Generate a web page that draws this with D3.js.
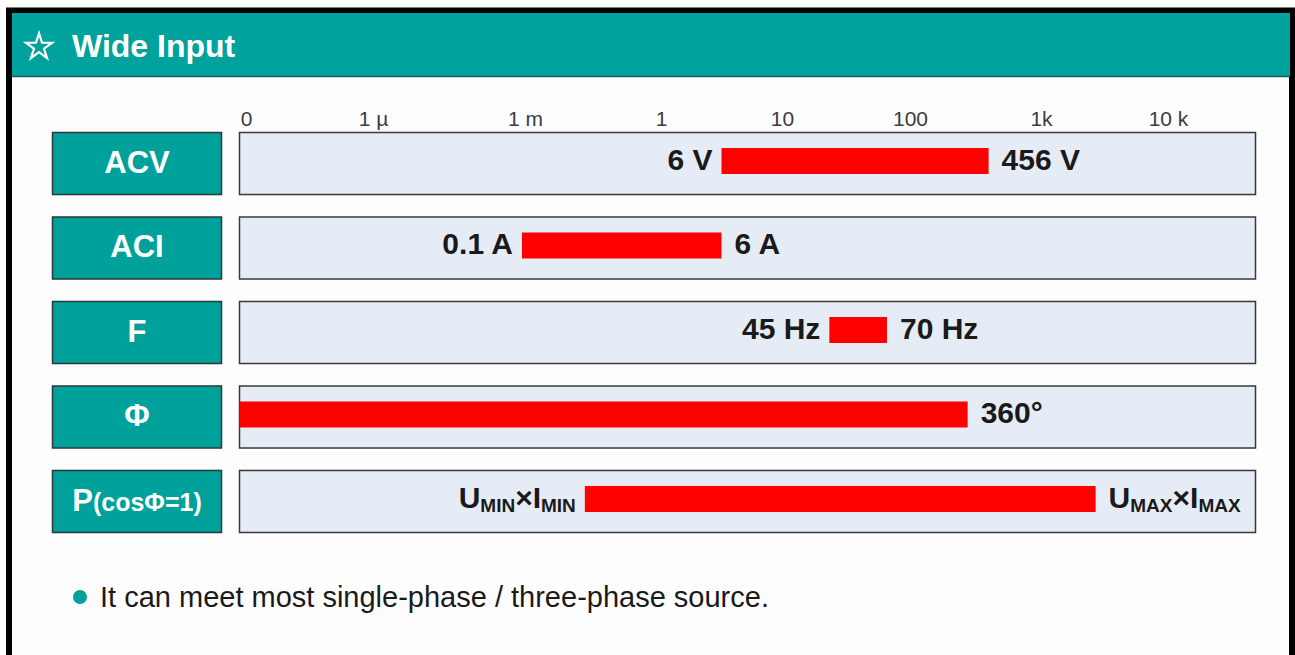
<!DOCTYPE html>
<html>
<head>
<meta charset="utf-8">
<script src="https://cdn.jsdelivr.net/npm/d3@7"></script>
<style>
  body { margin: 0; background: #fff; }
  svg { display: block; font-family: 'Liberation Sans', Arial, sans-serif; }
</style>
</head>
<body>
<div id="chart"></div>
<script>
// categories and range marks (bar ends are in tick-index units)
const rowLabels = ['ACV', 'ACI', 'F', 'Φ', 'P(cosΦ=1)'];
const tickLabels = ['0', '1 µ', '1 m', '1', '10', '100', '1k', '10 k'];
const barStart = [3.50, 1.98, 4.37, -0.05, 2.44];
const barEnd = [5.60, 3.50, 4.82, 5.44, 6.43];
const minLabels = ['6 V', '0.1 A', '45 Hz', '', 'U_{MIN}×I_{MIN}'];
const maxLabels = ['456 V', '6 A', '70 Hz', '360°', 'U_{MAX}×I_{MAX}'];
const title = 'Wide Input';
const note = 'It can meet most single-phase / three-phase source.';

const width = 1295;
const height = 655;
const teal = '#00a19a';

const svg = d3.select('#chart').append('svg')
  .attr('width', width)
  .attr('height', height);

// outer frame
svg.append('rect')
  .attr('x', 9).attr('y', 10.5)
  .attr('width', 1283).attr('height', 700)
  .attr('fill', '#fdfdfd')
  .attr('stroke', '#000')
  .attr('stroke-width', 6);

// header band
svg.append('rect')
  .attr('x', 12).attr('y', 13)
  .attr('width', 1278).attr('height', 63)
  .attr('fill', '#00a29d');
svg.append('line')
  .attr('x1', 12).attr('x2', 1290)
  .attr('y1', 76.5).attr('y2', 76.5)
  .attr('stroke', '#1d5d58')
  .attr('stroke-width', 1.5);

svg.append('path')
  .attr('transform', 'translate(39,47)')
  .attr('d', d3.symbol().type(d3.symbolStar).size(210)())
  .attr('fill', 'none')
  .attr('stroke', '#fff')
  .attr('stroke-width', 2.2)
  .attr('stroke-linejoin', 'miter');
svg.append('text')
  .attr('x', 72).attr('y', 57)
  .attr('fill', '#fff')
  .attr('font-size', 32)
  .attr('font-weight', 'bold')
  .text(title);

// scales: tick index -> pixel, row -> band
const x = d3.scaleLinear()
  .domain(d3.range(tickLabels.length))
  .range([246, 373, 525, 661, 782, 910, 1041, 1168]);

const y = d3.scaleBand()
  .domain(rowLabels)
  .range([132, 532])
  .paddingInner(0.266)
  .paddingOuter(0);

const xAxis = d3.axisTop(x)
  .tickValues(d3.range(tickLabels.length))
  .tickFormat(i => tickLabels[i])
  .tickSize(0)
  .tickPadding(0);

const axisG = svg.append('g')
  .attr('transform', 'translate(0,126)')
  .call(xAxis);
axisG.select('.domain').remove();
axisG.selectAll('text')
  .attr('font-size', 21)
  .attr('font-family', "'Liberation Sans', Arial, sans-serif")
  .attr('fill', '#3c3c3c')
  .attr('dy', 0);

// text with _{sub} parts
function richText(sel, s, big, small) {
  s.split(/(_\{[^}]*\})/).filter(p => p.length).forEach(p => {
    if (p.startsWith('_{')) {
      sel.append('tspan')
        .attr('font-size', small)
        .attr('dy', 4)
        .text(p.slice(2, -1));
    } else {
      sel.append('tspan')
        .attr('font-size', big)
        .attr('dy', sel.selectAll('tspan').size() ? -4 : 0)
        .text(p);
    }
  });
}

const rows = svg.selectAll('g.row')
  .data(rowLabels.map((name, i) => ({
    name, i, start: barStart[i], end: barEnd[i], lo: minLabels[i], hi: maxLabels[i]
  })))
  .enter().append('g')
  .attr('class', 'row')
  .attr('transform', d => `translate(0,${y(d.name)})`);

const bh = y.bandwidth();

// label boxes
rows.append('rect')
  .attr('x', 52.5).attr('y', 0.5)
  .attr('width', 169).attr('height', bh)
  .attr('fill', teal)
  .attr('stroke', '#2b3a38')
  .attr('stroke-width', 1.5);

rows.append('text')
  .attr('x', 137)
  .attr('y', bh / 2 + 10)
  .attr('text-anchor', 'middle')
  .attr('fill', '#fff')
  .attr('font-weight', 'bold')
  .each(function (d) {
    const t = d3.select(this);
    if (d.name.startsWith('P(')) {
      t.append('tspan').attr('font-size', 31).text('P');
      t.append('tspan').attr('font-size', 25).text(d.name.slice(1));
    } else {
      t.attr('font-size', 31).text(d.name);
    }
  });

// panels
rows.append('rect')
  .attr('x', 239.5).attr('y', 0.5)
  .attr('width', 1016).attr('height', bh)
  .attr('fill', '#e6ecf6')
  .attr('stroke', '#3a3a3a')
  .attr('stroke-width', 1.5);

// range bars
rows.append('rect')
  .attr('x', d => x(d.start))
  .attr('y', 16)
  .attr('width', d => x(d.end) - x(d.start))
  .attr('height', 26)
  .attr('fill', '#ff0000');

rows.append('text')
  .attr('x', d => x(d.start) - 9)
  .attr('y', 42)
  .attr('text-anchor', 'end')
  .attr('fill', '#1a1a1a')
  .attr('font-weight', 'bold')
  .each(function (d) { richText(d3.select(this), d.lo, 30, 19); });

rows.append('text')
  .attr('x', d => x(d.end) + 13)
  .attr('y', 42)
  .attr('text-anchor', 'start')
  .attr('fill', '#1a1a1a')
  .attr('font-weight', 'bold')
  .each(function (d) { richText(d3.select(this), d.hi, 30, 19); });

// bullet note
svg.append('circle')
  .attr('cx', 80).attr('cy', 597)
  .attr('r', 7)
  .attr('fill', teal);
svg.append('text')
  .attr('x', 100).attr('y', 607)
  .attr('fill', '#1a1a1a')
  .attr('font-size', 29)
  .text(note);
</script>
</body>
</html>
